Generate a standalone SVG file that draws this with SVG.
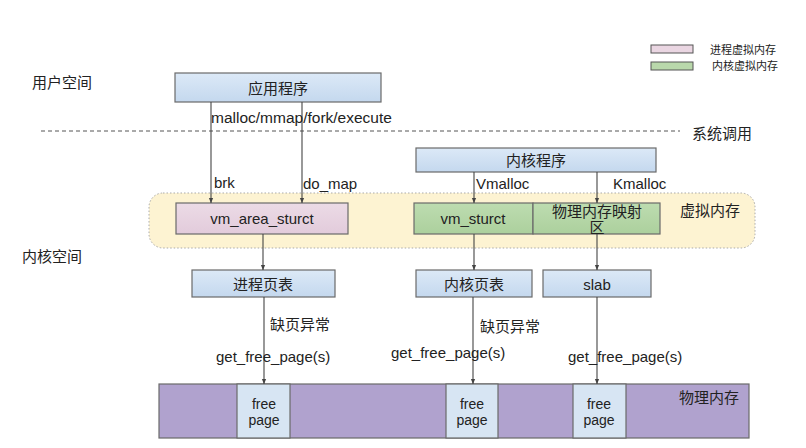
<svg xmlns="http://www.w3.org/2000/svg" width="806" height="448" viewBox="0 0 806 448">
<defs>
<linearGradient id="gBlue" x1="0" y1="0" x2="0" y2="1"><stop offset="0" stop-color="#dce9f7"/><stop offset="1" stop-color="#c4d8ee"/></linearGradient>
<linearGradient id="gPink" x1="0" y1="0" x2="0" y2="1"><stop offset="0" stop-color="#ecdbe6"/><stop offset="1" stop-color="#e2cbdb"/></linearGradient>
<linearGradient id="gGreen" x1="0" y1="0" x2="0" y2="1"><stop offset="0" stop-color="#bddcb0"/><stop offset="1" stop-color="#acd09d"/></linearGradient>
<marker id="arr" viewBox="0 0 8 8" refX="7" refY="4" markerWidth="6" markerHeight="6" orient="auto" markerUnits="userSpaceOnUse"><path d="M0,1 L7,4 L0,7 z" fill="#444"/></marker>
</defs>
<style>
text{font-family:"Liberation Sans","Noto Sans CJK SC",sans-serif;fill:#222;font-size:15px;dominant-baseline:central}
.c{text-anchor:middle}
.sm{font-size:11px}
.fp{font-size:14px}
.box{stroke:#6a6a6a;stroke-width:1.2}
.blue{fill:url(#gBlue)}
.pink{fill:url(#gPink)}
.green{fill:url(#gGreen)}
.mem{fill:#b0a2ce;stroke:#6a6a6a;stroke-width:1.2}
.free{fill:#d7e5f3;stroke:#6a6a6a;stroke-width:1.2}
.ln{stroke:#444;stroke-width:1.1;fill:none;marker-end:url(#arr)}
</style>
<rect width="806" height="448" fill="#fff"/>

<!-- legend -->
<g id="legend">
<rect x="651" y="45" width="42" height="8" fill="#ead6e2" stroke="#555" stroke-width="1"/>
<text x="710" y="50" class="sm">进程虚拟内存</text>
<rect x="651" y="62" width="42" height="8" fill="#b9d8ab" stroke="#555" stroke-width="1"/>
<text x="712" y="66" class="sm">内核虚拟内存</text>
</g>

<!-- region labels -->
<text x="32" y="82">用户空间</text>
<text x="22" y="256">内核空间</text>
<text x="692" y="133">系统调用</text>
<line x1="41" y1="131" x2="680" y2="131" stroke="#555" stroke-width="1" stroke-dasharray="4 3"/>

<!-- virtual memory region -->
<g id="vmem-region">
<rect x="149" y="193" width="606" height="55" rx="14" fill="#fdf3d2" stroke="#aaa" stroke-width="1" stroke-dasharray="1.5 2"/>
<text x="680" y="210">虚拟内存</text>
</g>

<g id="app"><rect class="box blue" x="175" y="73" width="206" height="29"/><text class="c" x="278" y="88">应用程序</text></g>
<g id="kernel"><rect class="box blue" x="416" y="148" width="240" height="24"/><text class="c" x="536" y="160">内核程序</text></g>
<g id="vm_area"><rect class="box pink" x="176" y="203" width="172" height="31"/><text class="c" x="262" y="218">vm_area_sturct</text></g>
<g id="vm_struct"><rect class="box green" x="414" y="203" width="119" height="31"/><text class="c" x="473" y="218">vm_sturct</text></g>
<g id="phys_map"><rect class="box green" x="533" y="203" width="127" height="31"/><text class="c" x="597" y="211">物理内存映射</text><text class="c" x="597" y="227">区</text></g>
<g id="proc_pt"><rect class="box blue" x="192" y="270" width="143" height="27"/><text class="c" x="263" y="284">进程页表</text></g>
<g id="kern_pt"><rect class="box blue" x="416" y="270" width="116" height="27"/><text class="c" x="474" y="284">内核页表</text></g>
<g id="slab"><rect class="box blue" x="543" y="270" width="108" height="27"/><text class="c" x="597" y="284">slab</text></g>

<g id="physmem">
<rect class="mem" x="159" y="384" width="590" height="54"/>
<rect class="free" x="237" y="384" width="53" height="54"/>
<rect class="free" x="446" y="384" width="52" height="54"/>
<rect class="free" x="573" y="384" width="53" height="54"/>
<text class="c fp" x="264" y="404">free</text><text class="c fp" x="264" y="420">page</text>
<text class="c fp" x="472" y="404">free</text><text class="c fp" x="472" y="420">page</text>
<text class="c fp" x="599" y="404">free</text><text class="c fp" x="599" y="420">page</text>
<text x="679" y="397">物理内存</text>
</g>

<g id="connectors">
<line class="ln" x1="211" y1="102" x2="211" y2="203"/>
<line class="ln" x1="302" y1="102" x2="302" y2="203"/>
<line class="ln" x1="474" y1="172" x2="474" y2="203"/>
<line class="ln" x1="597" y1="172" x2="597" y2="203"/>
<line class="ln" x1="263" y1="234" x2="263" y2="270"/>
<line class="ln" x1="474" y1="234" x2="474" y2="270"/>
<line class="ln" x1="597" y1="234" x2="597" y2="270"/>
<line class="ln" x1="264" y1="297" x2="264" y2="384"/>
<line class="ln" x1="473" y1="297" x2="473" y2="384"/>
<line class="ln" x1="597" y1="297" x2="597" y2="384"/>
<text x="211" y="117" style="font-size:15.5px">malloc/mmap/fork/execute</text>
<text x="214" y="182">brk</text>
<text x="303" y="183">do_map</text>
<text x="476" y="183">Vmalloc</text>
<text x="613" y="183">Kmalloc</text>
<text x="270" y="324">缺页异常</text>
<text x="480" y="326">缺页异常</text>
<text x="216" y="356">get_free_page(s)</text>
<text x="391" y="352">get_free_page(s)</text>
<text x="568" y="356">get_free_page(s)</text>
</g>
</svg>
